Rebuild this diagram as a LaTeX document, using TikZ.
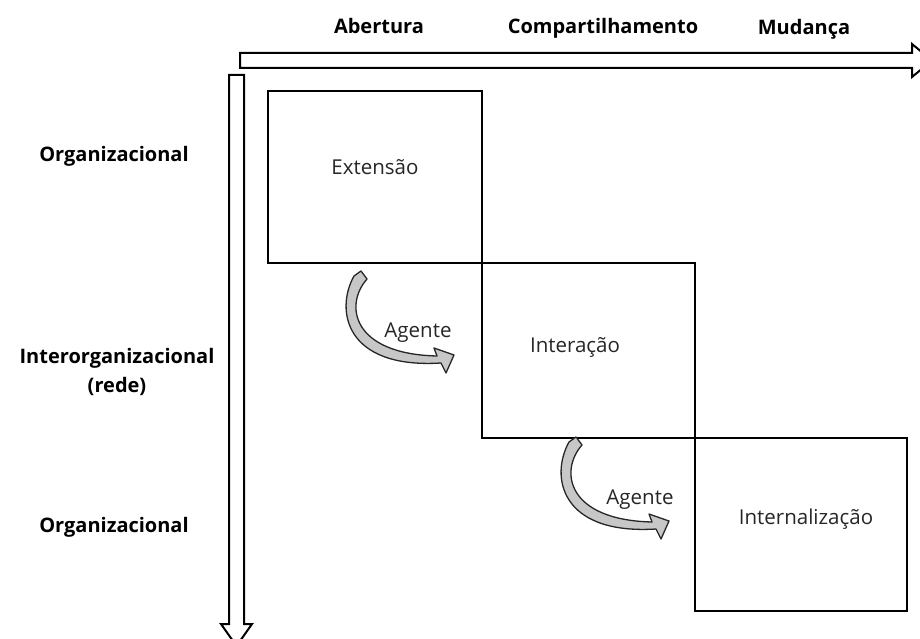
\documentclass[tikz,border=0pt]{standalone}
\usepackage{fontspec}
\setmainfont{Open Sans}
\begin{document}
\begin{tikzpicture}[x=1pt,y=-1pt,
  axislabel/.style={font=\fontsize{20}{24}\selectfont\bfseries, anchor=base, inner sep=0pt},
  boxlabel/.style={font=\fontsize{20.5}{24}\selectfont, anchor=base, inner sep=0pt, text=black!85},
  stage/.style={draw=black, line width=2pt, rectangle, inner sep=0pt, anchor=north west},
  axisarrow/.style={draw=black, line width=2pt, fill=white, line join=miter},
  agentarrow/.style={draw=black!85, line width=1.3pt, fill=black!22, line join=round}]
\useasboundingbox (0,0) rectangle (920,639);
\clip (0,0) rectangle (920,639);

% column headings
\node[axislabel] (abertura) at (379,34) {Abertura};
\node[axislabel] (compart) at (603,34) {Compartilhamento};
\node[axislabel] (mudanca) at (804,35) {Mudança};

% row headings
\node[axislabel] (org1) at (114,162) {Organizacional};
\node[axislabel] (inter) at (117,363) {Interorganizacional};
\node[axislabel] (rede) at (117,392) {(rede)};
\node[axislabel] (org2) at (114,532) {Organizacional};

% horizontal axis arrow
\draw[axisarrow] (240,53) -- (912,53) -- (912,44) -- (932,60.5) -- (912,77) -- (912,68) -- (240,68) -- cycle;
% vertical axis arrow
\draw[axisarrow] (229,75) -- (244,75) -- (244,624) -- (252,624) -- (236.5,646) -- (221,624) -- (229,624) -- cycle;

% stages
\node[stage, minimum width=214pt, minimum height=172pt] (ext) at (267,90) {};
\node[stage, minimum width=213pt, minimum height=175pt] (int) at (481,262) {};
\node[stage, minimum width=212pt, minimum height=173pt] (intern) at (694,437) {};

\node[boxlabel] (extlbl) at (375,175) {Extensão};
\node[boxlabel] (intlbl) at (575,352) {Interação};
\node[boxlabel] (internlbl) at (806,524) {Internalização};

% curved agent arrows
\foreach \dx/\dy in {0/0, 215/166} {
  \begin{scope}[shift={(\dx,\dy)}]
    \path[agentarrow] (361,271) -- (367,279)
      .. controls (344,305) and (352,354) .. (437,356)
      -- (434,348) -- (454,355) -- (446,373) -- (441,363)
      .. controls (345,369) and (335,310) .. (354,276) -- cycle;
  \end{scope}
}
\node[boxlabel] (agente1) at (418,337) {Agente};
\node[boxlabel] (agente2) at (640,504) {Agente};
\end{tikzpicture}
\end{document}
